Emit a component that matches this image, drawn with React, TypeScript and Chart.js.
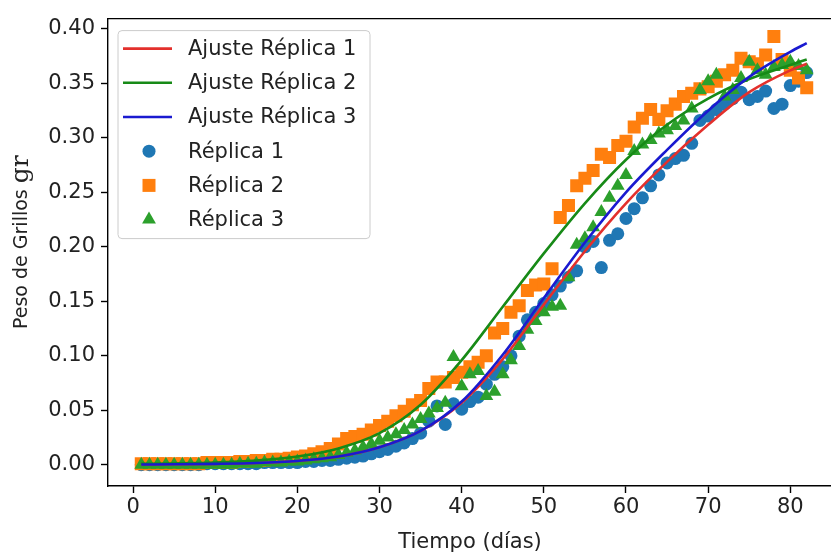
import React, { useEffect, useRef } from 'react';
import { Chart, registerables } from 'chart.js';

Chart.register(...registerables);

// ---------- data ----------
const days = [
  1, 2, 3, 4, 5, 6, 7, 8, 9, 10, 11, 12, 13, 14, 15, 16, 17, 18, 19, 20,
  21, 22, 23, 24, 25, 26, 27, 28, 29, 30, 31, 32, 33, 34, 35, 36, 37, 38, 39, 40,
  41, 42, 43, 44, 45, 46, 47, 48, 49, 50, 51, 52, 53, 54, 55, 56, 57, 58, 59, 60,
  61, 62, 63, 64, 65, 66, 67, 68, 69, 70, 71, 72, 73, 74, 75, 76, 77, 78, 79, 80,
  81, 82,
];

const replica1 = [
  0.000, 0.000, 0.000, 0.000, 0.000, 0.000, 0.000, 0.000, 0.001, 0.001,
  0.001, 0.001, 0.001, 0.001, 0.001, 0.002, 0.002, 0.002, 0.002, 0.002,
  0.003, 0.003, 0.004, 0.004, 0.005, 0.006, 0.007, 0.008, 0.010, 0.012,
  0.014, 0.017, 0.020, 0.024, 0.029, 0.040, 0.054, 0.037, 0.056, 0.051,
  0.058, 0.062, 0.074, 0.083, 0.090, 0.100, 0.118, 0.133, 0.140, 0.148,
  0.156, 0.164, 0.172, 0.178, 0.200, 0.205, 0.181, 0.206, 0.212, 0.226,
  0.235, 0.245, 0.256, 0.266, 0.277, 0.281, 0.284, 0.295, 0.316, 0.320,
  0.326, 0.331, 0.336, 0.342, 0.335, 0.338, 0.343, 0.327, 0.331, 0.348,
  0.352, 0.360,
];

const replica2 = [
  0.001, 0.001, 0.001, 0.001, 0.001, 0.001, 0.001, 0.001, 0.002, 0.002,
  0.002, 0.002, 0.003, 0.003, 0.004, 0.004, 0.005, 0.005, 0.006, 0.007,
  0.008, 0.010, 0.012, 0.015, 0.019, 0.024, 0.026, 0.028, 0.032, 0.036,
  0.040, 0.045, 0.049, 0.055, 0.059, 0.070, 0.076, 0.076, 0.080, 0.085,
  0.090, 0.094, 0.100, 0.121, 0.125, 0.140, 0.146, 0.160, 0.165, 0.166,
  0.180, 0.227, 0.238, 0.256, 0.263, 0.270, 0.285, 0.282, 0.293, 0.297,
  0.310, 0.318, 0.326, 0.317, 0.325, 0.331, 0.338, 0.341, 0.345, 0.347,
  0.352, 0.358, 0.362, 0.373, 0.370, 0.368, 0.376, 0.393, 0.372, 0.362,
  0.355, 0.346,
];

const replica3 = [
  0.000, 0.000, 0.000, 0.000, 0.000, 0.000, 0.000, 0.000, 0.000, 0.000,
  0.000, 0.000, 0.001, 0.001, 0.001, 0.002, 0.002, 0.002, 0.003, 0.003,
  0.004, 0.005, 0.006, 0.007, 0.009, 0.011, 0.013, 0.016, 0.019, 0.022,
  0.025, 0.028, 0.032, 0.037, 0.042, 0.047, 0.052, 0.057, 0.099, 0.072,
  0.083, 0.086, 0.063, 0.067, 0.083, 0.096, 0.109, 0.124, 0.132, 0.140,
  0.145, 0.146, 0.172, 0.202, 0.208, 0.218, 0.232, 0.245, 0.256, 0.266,
  0.288, 0.294, 0.298, 0.304, 0.307, 0.311, 0.316, 0.327, 0.344, 0.352,
  0.358, 0.338, 0.344, 0.355, 0.370, 0.362, 0.358, 0.365, 0.367, 0.370,
  0.366, 0.362,
];

const fitDays = [1, 5, 10, 15, 20, 25, 30, 35, 40, 45, 50, 55, 60, 65, 70, 75, 80, 82];
const fit1 = [0.0002, 0.0004, 0.0008, 0.0016, 0.0035, 0.0075, 0.016, 0.031, 0.057, 0.097, 0.147, 0.196, 0.240, 0.278, 0.312, 0.342, 0.362, 0.368];
const fit2 = [0.0008, 0.0012, 0.002, 0.0038, 0.0075, 0.015, 0.029, 0.055, 0.096, 0.145, 0.194, 0.240, 0.280, 0.312, 0.336, 0.354, 0.367, 0.372];
const fit3 = [0.0002, 0.0004, 0.0008, 0.0016, 0.0035, 0.0075, 0.016, 0.031, 0.058, 0.101, 0.153, 0.204, 0.250, 0.289, 0.325, 0.356, 0.379, 0.387];

const xTicks = [0, 10, 20, 30, 40, 50, 60, 70, 80];
const yTicks = [0, 0.05, 0.1, 0.15, 0.2, 0.25, 0.3, 0.35, 0.4];

const seriesLabels = ['Ajuste Réplica 1', 'Ajuste Réplica 2', 'Ajuste Réplica 3', 'Réplica 1', 'Réplica 2', 'Réplica 3'];

// ---------- styles ----------
const FIT_COLORS = ['#e3302c', '#178a17', '#1a1ad0'];
const PT_COLORS = ['#1f77b4', '#ff7f0e', '#2ca02c'];
const FONT = '"DejaVu Sans", sans-serif';
const TEXT = '#222222';
const FS = 21;

const toXY = (xs: number[], ys: number[]) => xs.map((x, i) => ({ x, y: ys[i] }));

function drawMarker(ctx: CanvasRenderingContext2D, kind: number, x: number, y: number, color: string) {
  ctx.fillStyle = color;
  ctx.beginPath();
  if (kind === 0) {
    ctx.arc(x, y, 6.5, 0, Math.PI * 2);
  } else if (kind === 1) {
    ctx.rect(x - 6.5, y - 6.5, 13, 13);
  } else {
    const r = 8;
    ctx.moveTo(x, y - r);
    ctx.lineTo(x + r * 0.866, y + r * 0.5);
    ctx.lineTo(x - r * 0.866, y + r * 0.5);
    ctx.closePath();
  }
  ctx.fill();
}

const decorPlugin = {
  id: 'decor',
  afterDraw(chart: any) {
    const ctx: CanvasRenderingContext2D = chart.ctx;
    const a = chart.chartArea;
    ctx.save();
    // top & right spines
    ctx.strokeStyle = '#000';
    ctx.lineWidth = 1.4;
    ctx.beginPath();
    ctx.moveTo(a.left, a.top);
    ctx.lineTo(a.right, a.top);
    ctx.lineTo(a.right, a.bottom);
    ctx.stroke();

    // legend
    const bx = a.left + 10;
    const by = a.top + 12;
    const bw = 252;
    const bh = 208;
    ctx.beginPath();
    (ctx as any).roundRect(bx, by, bw, bh, 4);
    ctx.fillStyle = 'rgba(255,255,255,0.8)';
    ctx.fill();
    ctx.strokeStyle = '#cccccc';
    ctx.lineWidth = 1;
    ctx.stroke();

    ctx.font = `${FS}px ${FONT}`;
    ctx.textBaseline = 'middle';
    ctx.textAlign = 'left';
    seriesLabels.forEach((label, i) => {
      const y = by + 18 + i * 34.2;
      if (i < 3) {
        ctx.strokeStyle = FIT_COLORS[i];
        ctx.lineWidth = 2.6;
        ctx.beginPath();
        ctx.moveTo(bx + 5, y);
        ctx.lineTo(bx + 54, y);
        ctx.stroke();
      } else {
        drawMarker(ctx, i - 3, bx + 31, y, PT_COLORS[i - 3]);
      }
      ctx.fillStyle = TEXT;
      ctx.fillText(label, bx + 70, y + 1);
    });

    // x title
    ctx.textAlign = 'center';
    ctx.fillStyle = TEXT;
    ctx.font = `${FS}px ${FONT}`;
    ctx.fillText('Tiempo (días)', (a.left + a.right) / 2 - 4, 543);

    // y title (mixed fonts)
    ctx.save();
    ctx.translate(22, 329);
    ctx.rotate(-Math.PI / 2);
    ctx.textAlign = 'left';
    ctx.textBaseline = 'middle';
    ctx.font = `19px ${FONT}`;
    const part1 = 'Peso de Grillos ';
    ctx.fillText(part1, 0, 0);
    const w = ctx.measureText(part1).width;
    ctx.font = `25px "DejaVu Serif", serif`;
    ctx.fillText('gr', w, -1);
    ctx.restore();

    ctx.restore();
  },
};

export default function App() {
  const ref = useRef<HTMLCanvasElement | null>(null);

  useEffect(() => {
    if (!ref.current) return;
    const pointStyles = ['circle', 'rect', 'triangle'];
    const pointRadii = [6.5, 9.2, 8];
    const fits = [fit1, fit2, fit3];
    const reps = [replica1, replica2, replica3];

    const datasets: any[] = [];
    fits.forEach((f, i) => {
      datasets.push({
        label: seriesLabels[i],
        data: toXY(fitDays, f),
        showLine: true,
        borderColor: FIT_COLORS[i],
        backgroundColor: FIT_COLORS[i],
        borderWidth: 2.6,
        pointRadius: 0,
        cubicInterpolationMode: 'monotone',
        order: 2 - i,
      });
    });
    reps.forEach((r, i) => {
      datasets.push({
        label: seriesLabels[i + 3],
        data: toXY(days, r),
        showLine: false,
        pointStyle: pointStyles[i],
        pointRadius: pointRadii[i],
        pointBackgroundColor: PT_COLORS[i],
        pointBorderColor: PT_COLORS[i],
        pointBorderWidth: 0,
        order: 5 - i,
      });
    });

    const tickFont = { family: FONT, size: FS };
    const chart = new Chart(ref.current, {
      type: 'scatter',
      data: { datasets },
      options: {
        animation: false,
        responsive: false,
        maintainAspectRatio: false,
        devicePixelRatio: 1,
        layout: { padding: { top: 10, right: 10, left: 0, bottom: 0 } },
        plugins: { legend: { display: false }, tooltip: { enabled: false } },
        scales: {
          x: {
            type: 'linear',
            min: -3.05,
            max: 86.05,
            afterBuildTicks: (s: any) => { s.ticks = xTicks.map((v) => ({ value: v })); },
            afterFit: (s: any) => { s.height = 70; },
            ticks: {
              font: tickFont,
              color: TEXT,
              padding: 2,
              maxRotation: 0,
              autoSkip: false,
              callback: (v: any) => String(v),
            },
            grid: { drawOnChartArea: false, tickLength: 7, tickColor: '#000', tickWidth: 1.4 },
            border: { display: true, color: '#000', width: 1.4 },
          },
          y: {
            type: 'linear',
            min: -0.0195,
            max: 0.4095,
            afterBuildTicks: (s: any) => { s.ticks = yTicks.map((v) => ({ value: v })); },
            afterFit: (s: any) => { s.width = 108; },
            ticks: {
              font: tickFont,
              color: TEXT,
              padding: 6,
              autoSkip: false,
              callback: (v: any) => Number(v).toFixed(2),
            },
            grid: { drawOnChartArea: false, tickLength: 7, tickColor: '#000', tickWidth: 1.4 },
            border: { display: true, color: '#000', width: 1.4 },
          },
        },
      },
      plugins: [decorPlugin],
    } as any);
    return () => chart.destroy();
  }, []);

  return (
    <div style={{ position: 'fixed', left: 0, top: 0, width: 831, height: 556, overflow: 'hidden', background: '#fff' }}>
      <canvas ref={ref} width={850} height={556} style={{ display: 'block', width: 850, height: 556 }} />
    </div>
  );
}
